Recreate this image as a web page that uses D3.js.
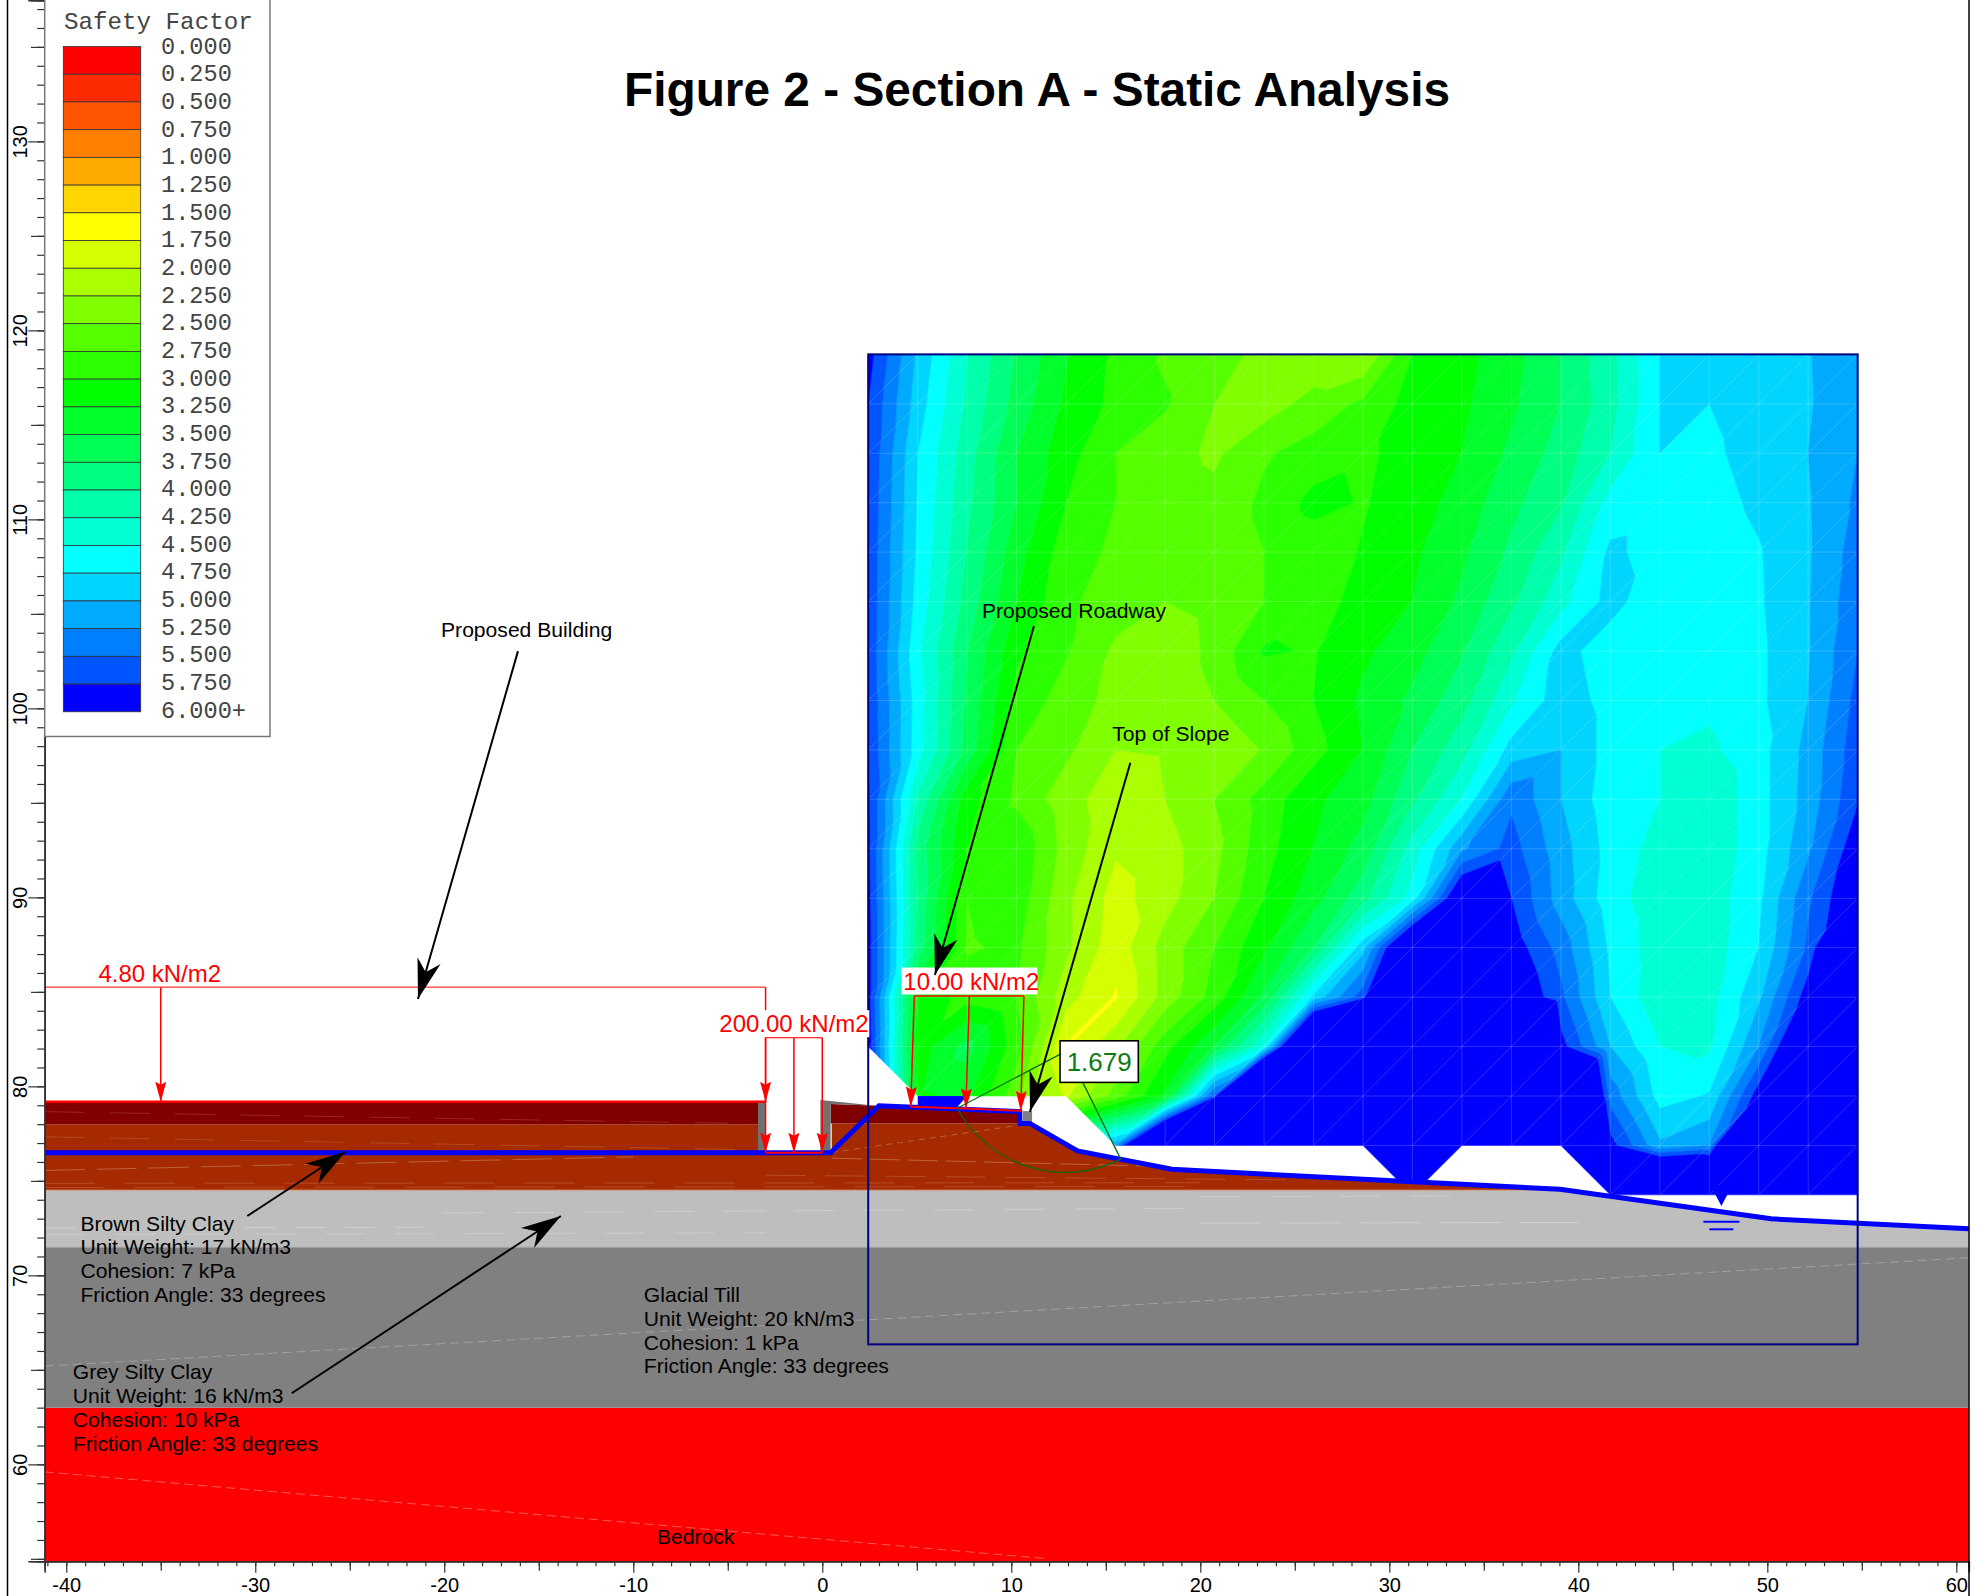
<!DOCTYPE html>
<html>
<head>
<meta charset="utf-8">
<script src="https://cdn.jsdelivr.net/npm/d3@7"></script>
<style>
  html, body { margin: 0; padding: 0; background: #fff; }
  svg { display: block; }
  text { font-family: "Liberation Sans", Arial, sans-serif; }
</style>
</head>
<body>
<svg id="chart" width="1982" height="1596"></svg>
<script>
// legend
const legendLabels = ["0.000","0.250","0.500","0.750","1.000","1.250","1.500","1.750","2.000","2.250","2.500","2.750",
  "3.000","3.250","3.500","3.750","4.000","4.250","4.500","4.750","5.000","5.250","5.500","5.750","6.000+"];
const legendColors = ["#ff0000","#ff2b00","#ff5500","#ff8000","#ffaa00","#ffd500","#ffff00","#d5ff00","#aaff00","#80ff00","#55ff00","#2bff00",
  "#00ff00","#00ff2b","#00ff55","#00ff80","#00ffaa","#00ffd5","#00ffff","#00d5ff","#00aaff","#0080ff","#0055ff","#0000ff"];
const thresholds = [0,0.25,0.5,0.75,1,1.25,1.5,1.75,2,2.25,2.5,2.75,3,3.25,3.5,3.75,4,4.25,4.5,4.75,5,5.25,5.5,5.75];

// search grid of the safety factor contours (x and elevation of the nodes)
const meshX = [2.43,5.05,7.67,10.28,12.9,15.52,18.14,20.75,23.37,25.99,28.61,31.22,33.84,36.46,39.08,41.69,44.31,46.93,49.55,52.16,54.78];
const meshY = [118.73,116.11,113.5,110.88,108.27,105.65,103.03,100.42,97.8,95.19,92.57,89.95,87.34,84.72,82.11,79.49,76.87,74.26];
const _ = null; // node under the ground
const safety = [
  [5.85,4.95,4.25,3.72,3.27,2.95,2.71,2.57,2.45,2.3,2.25,3.0,3.17,3.4,3.75,4.17,4.75,4.83,4.88,4.98,5.24],
  [5.75,4.87,4.2,3.65,3.2,2.93,2.78,2.5,2.36,2.6,2.8,3.1,3.2,3.45,3.75,4.15,4.75,4.75,4.87,4.97,5.25],
  [5.72,4.75,4.1,3.5,3.1,2.75,2.6,2.45,2.72,2.85,2.95,3.1,3.25,3.55,3.85,4.25,4.75,4.7,4.85,5.0,5.25],
  [5.7,4.73,4.05,3.5,3.0,2.75,2.65,2.58,2.8,3.08,2.98,3.12,3.35,3.68,3.97,4.6,4.65,4.65,4.8,4.98,5.3],
  [5.68,4.7,3.98,3.35,2.87,2.7,2.62,2.6,2.75,2.85,3.02,3.2,3.45,3.8,4.2,4.8,4.65,4.6,4.73,4.97,5.37],
  [5.68,4.65,3.9,3.25,2.8,2.62,2.5,2.6,2.75,2.9,3.08,3.25,3.55,3.95,4.4,4.85,4.55,4.55,4.72,4.98,5.42],
  [5.68,4.55,3.75,3.05,2.77,2.45,2.3,2.58,3.03,2.98,3.2,3.4,3.72,4.2,4.85,4.6,4.55,4.55,4.7,4.98,5.5],
  [5.7,4.62,3.7,2.9,2.65,2.4,2.3,2.5,2.75,3.0,3.3,3.55,3.9,4.45,4.9,4.65,4.55,4.55,4.7,5.0,5.58],
  [5.72,4.6,3.65,2.75,2.55,2.25,2.27,2.28,2.52,2.9,3.25,3.75,4.15,4.85,5.0,4.65,4.5,4.45,4.65,5.08,5.65],
  [5.78,4.2,3.1,2.7,2.35,2.1,2.25,2.5,2.85,3.2,3.4,3.95,4.5,5.45,5.0,4.6,4.5,4.3,4.65,5.1,5.72],
  [5.8,3.9,3.0,2.95,2.4,2.03,2.15,2.42,2.9,3.25,3.6,4.35,5.2,5.6,5.1,4.65,4.4,4.3,4.65,5.2,5.96],
  [5.82,3.95,2.75,2.9,2.3,1.9,2.15,2.5,3.0,3.4,3.9,4.6,6.24,5.75,5.13,4.6,4.35,4.35,4.7,5.45,6.1],
  [5.85,3.9,2.72,2.8,2.3,1.85,2.35,2.75,3.2,3.75,4.9,6.7,7,5.91,5.4,4.7,4.35,4.35,4.75,5.55,6.9],
  [5.85,3.2,2.9,2.75,2.1,1.72,2.35,2.85,3.55,4.8,5.65,8,8,6.12,5.55,4.75,4.3,4.4,4.95,5.9,8],
  [5.9,3.1,3.6,2.85,1.72,2.2,2.9,3.5,4.5,8,9,9,9,8,5.85,5.0,4.5,4.45,5.25,6.5,9],
  [_,3.2,3.3,2.6,1.95,2.6,3.3,5.6,10,9,9,9,9,9,8,5.4,4.65,4.77,5.9,9,9],
  [_,_,_,_,_,5.2,8.3,9,9,9,9,9,9,9,9,5.85,5.05,5.25,9,9,9],
  [_,_,_,_,_,_,_,_,_,_,_,9,_,_,_,9,8.1,7.75,9,9,9]
];
const blueStrip = [[5.05,79.49],[7.67,79.49],[7.13,78.9],[5.05,78.9]];

// soil layers, elevations in m
const xMin = -41.14, xMax = 60.66, yMin = 54.87, yMax = 137.47;
const bedrockTop = 63, tillTop = 71.48, greyTop = 74.51, darkSplit = 78.0;
const surface = [[-41.14,76.49],[0.44,76.49],[3,78.97],[10.45,78.66],[10.46,78.04],[10.98,78.04],[13.5,76.58],[18.5,75.61],[39.03,74.55],[50.2,72.99],[60.66,72.47]];
const bedrockLayer = [[xMin,yMin],[xMax,yMin],[xMax,bedrockTop],[xMin,bedrockTop]];
const tillLayer = [[xMin,bedrockTop],[xMax,bedrockTop],[xMax,tillTop],[xMin,tillTop]];
const greyLayer = [[xMin,tillTop],[xMax,tillTop],[60.66,72.47],[50.2,72.99],[39.03,74.55],[39.03,greyTop],[xMin,greyTop]];
const brownLayer = [[xMin,greyTop],[39.03,greyTop],[39.03,74.55],[18.5,75.61],[13.5,76.58],[10.98,78.04],[0.5,78.04],[0.5,76.49],[-3.4,76.49],[-3.4,darkSplit],[xMin,darkSplit]];
const darkLeft = [[xMin,darkSplit],[-3.4,darkSplit],[-3.4,79.18],[xMin,79.18]];
const darkRight = [[0.44,78.04],[10.45,78.04],[10.45,78.66],[3,78.97],[0.44,79.07]];
const wallLeft = [[-3.4,76.49],[-3,76.49],[-3,79.18],[-3.4,79.18]];
const wallRight = [[-0.1,76.49],[0.44,76.49],[0.44,79.07],[2.87,78.97],[-0.1,79.28]];
const curbBlock = [[10.62,78.05],[11.1,78.05],[11.1,78.69],[10.62,78.69]];

// thin material boundary lines [x1,y1,x2,y2,colour,dash]
const faintLines = [
  [-41.14,65.2,60.66,70.93,"#b4b4b4","9 5"],
  [-41.14,59.6,12,55,"#ff8c8c","9 5"],
  [-41.14,72.5,-20,72.55,"#dcdcdc","30 20"],
  [-41.14,72.15,-3,72.25,"#d4d4d4","40 30"],
  [-20,73.3,20,73.55,"#d8d8d8","40 30"],
  [20,72.76,40,72.8,"#dcdcdc","60 20"],
  [20,74.16,34,74.2,"#d4d4d4","40 30"],
  [-41.14,78.66,-5,78.05,"#a83c2c","40 25"],
  [-41.14,77.33,-3,76.63,"#c05a30","40 25"],
  [-41.14,75.55,-10,76.27,"#c8845c","40 12"],
  [-41.14,74.87,20,74.9,"#c0603c","50 30"],
  [-41.14,74.65,20,74.7,"#c0603c","60 30"],
  [0.5,76.5,10.8,78.0,"#c8845c","6 5"],
  [0.5,76.2,18.55,75.75,"#c8845c","30 8"],
  [-3,75.3,25,75.05,"#c0603c","40 20"]
];

// distributed loads
const loadLeft = { top: 85.25, foot: 79.18, xs: [-35,-3], label: "4.80 kN/m2", lineFrom: xMin, lineTo: -3 };
const loadBuilding = { top: 82.59, foot: 76.49, xs: [-3,-1.5,0], label: "200.00 kN/m2" };
const loadRoad = { top: 84.78, xs: [4.87,7.78,10.67], feet: [[4.68,78.92],[7.6,78.83],[10.5,78.7]], label: "10.00 kN/m2" };

// black leader arrows [x1,y1,tipX,tipY]
const arrows = [
  [-16.1,103.03,-21.39,84.62],
  [11.2,104.36,5.96,85.89],
  [16.3,97.12,10.99,78.66],
  [-30.42,73.14,-25.23,76.54],
  [-28.07,63.76,-13.83,73.14]
];

// critical slip surface
const slipCenter = [12.95,81.89], slipRadius = 6.5;
const slipEntry = [7.14,78.84], slipExit = [15.79,76.15];
const slipBox = { x1: 12.58, x2: 16.72, y1: 82.41, y2: 80.21, label: "1.679", color: "#0b7d14", line: "#0a6a10" };
const waterX = 47.57;

const notes = [
  { x: -20.17, lines: ["Proposed Building"] },
  { x: 8.45, lines: ["Proposed Roadway"] },
  { x: 15.34, lines: ["Top of Slope"] },
  { x: -39.25, lines: ["Brown Silty Clay","Unit Weight: 17 kN/m3","Cohesion: 7 kPa","Friction Angle: 33 degrees"] },
  { x: -39.65, lines: ["Grey Silty Clay","Unit Weight: 16 kN/m3","Cohesion: 10 kPa","Friction Angle: 33 degrees"] },
  { x: -9.44, lines: ["Glacial Till","Unit Weight: 20 kN/m3","Cohesion: 1 kPa","Friction Angle: 33 degrees"] },
  { x: -8.75, lines: ["Bedrock"] }
];

// scales: drawing is 18.9 px per metre both ways
const x = d3.scaleLinear().domain([xMin, xMax]).range([44.7, 1968.8]);
const y = d3.scaleLinear().domain([yMin, yMax]).range([1561.3, 0.2]);
const line = d3.line().x(d => x(d[0])).y(d => y(d[1]));
const closed = pts => line(pts) + "Z";

const svg = d3.select("#chart");
svg.append("rect").attr("width", 1982).attr("height", 1596).attr("fill", "#fff");

// ---- contours: each mesh cell is cut in triangles, every triangle is clipped per band ----
const triangles = [];
for (let r = 0; r < meshY.length - 1; r++) {
  for (let c = 0; c < meshX.length - 1; c++) {
    const node = (i, j) => safety[j][i] === null ? null : [meshX[i], meshY[j], safety[j][i]];
    const tl = node(c, r), tr = node(c + 1, r), bl = node(c, r + 1), br = node(c + 1, r + 1);
    const count = [tl, tr, bl, br].filter(Boolean).length;
    if (count === 4) {
      triangles.push([tl, tr, bl], [tr, br, bl]);
    } else if (count === 3) {
      triangles.push([tl, tr, br, bl].filter(Boolean)); // ground cuts off one corner
    }
  }
}

const clipBelow = (poly, limit, keepAbove) => {
  const out = [];
  poly.forEach((a, i) => {
    const b = poly[(i + 1) % poly.length];
    const aIn = keepAbove ? a[2] >= limit : a[2] <= limit;
    const bIn = keepAbove ? b[2] >= limit : b[2] <= limit;
    if (aIn) out.push(a);
    if (aIn !== bIn) {
      const t = (limit - a[2]) / (b[2] - a[2]);
      out.push([a[0] + t * (b[0] - a[0]), a[1] + t * (b[1] - a[1]), limit]);
    }
  });
  return out;
};

const bands = thresholds.map((lo, i) => {
  const hi = i + 1 < thresholds.length ? thresholds[i + 1] : Infinity;
  let d = "";
  triangles.forEach(t => {
    let poly = clipBelow(t, lo, true);
    if (poly.length && hi !== Infinity) poly = clipBelow(poly, hi, false);
    if (poly.length > 2) d += closed(poly);
  });
  return { d, color: legendColors[i] };
}).filter(b => b.d);

svg.append("g").attr("class", "contours")
  .selectAll("path")
  .data(bands)
  .join("path")
    .attr("d", d => d.d)
    .attr("fill", d => d.color)
    .attr("stroke", d => d.color)
    .attr("stroke-width", 0.6)
    .attr("stroke-linejoin", "round");

svg.append("path").attr("d", closed(blueStrip)).attr("fill", "#0000ff");

// mesh lines, shared edges get drawn twice so they come out brighter than the diagonals
svg.append("g").attr("class", "mesh")
  .selectAll("path")
  .data(triangles)
  .join("path")
    .attr("d", d => closed(d))
    .attr("fill", "none")
    .attr("stroke", "#fff")
    .attr("stroke-opacity", 0.11)
    .attr("stroke-width", 0.9);

// ---- soil ----
const layers = [
  [bedrockLayer, "#ff0000"],
  [tillLayer, "#808080"],
  [greyLayer, "#bebebe"],
  [brownLayer, "#a52a00"],
  [darkLeft, "#800000"],
  [darkRight, "#800000"],
  [wallLeft, "#707070"],
  [wallRight, "#707070"],
  [curbBlock, "#808080"]
];
svg.append("g").attr("class", "layers")
  .selectAll("path")
  .data(layers)
  .join("path")
    .attr("d", d => closed(d[0]))
    .attr("fill", d => d[1]);

svg.append("g").selectAll("line")
  .data(faintLines)
  .join("line")
    .attr("x1", d => x(d[0])).attr("y1", d => y(d[1]))
    .attr("x2", d => x(d[2])).attr("y2", d => y(d[3]))
    .attr("stroke", d => d[4])
    .attr("stroke-dasharray", d => d[5])
    .attr("stroke-opacity", 0.7)
    .attr("stroke-width", 0.9);

// material boundary tops
[[greyTop, "#d09070"], [tillTop, "#9a9a9a"]].forEach(([v, col]) => {
  svg.append("line").attr("x1", x(xMin)).attr("x2", x(v === greyTop ? 39 : xMax))
    .attr("y1", y(v)).attr("y2", y(v)).attr("stroke", col).attr("stroke-width", 1);
});

svg.append("path")
  .attr("d", line(surface))
  .attr("fill", "none")
  .attr("stroke", "#0000ff")
  .attr("stroke-width", 5)
  .attr("stroke-linejoin", "miter");

// water table symbol
svg.append("path")
  .attr("d", `M${x(waterX) - 11},1185 L${x(waterX) + 11},1185 L${x(waterX)},1206 Z`)
  .attr("fill", "#0000ff");
[[18, 1221.7], [12, 1229.3]].forEach(([w, yy]) => {
  svg.append("line").attr("x1", x(waterX) - w).attr("x2", x(waterX) + w)
    .attr("y1", yy).attr("y2", yy).attr("stroke", "#0000ff").attr("stroke-width", 2);
});

// search box
svg.append("rect")
  .attr("x", x(meshX[0])).attr("y", y(meshY[0]))
  .attr("width", x(meshX[20]) - x(meshX[0]))
  .attr("height", y(66.35) - y(meshY[0]))
  .attr("fill", "none")
  .attr("stroke", "#000080")
  .attr("stroke-width", 2);

// ---- loads ----
const headPath = (fx, fy, tx, ty, len, hw, notch) => {
  const l = Math.hypot(tx - fx, ty - fy);
  const ux = (tx - fx) / l, uy = (ty - fy) / l;
  const bx = tx - ux * len, by = ty - uy * len;
  const nx = tx - ux * notch, ny = ty - uy * notch;
  return `M${tx},${ty} L${bx - uy * hw},${by + ux * hw} L${nx},${ny} L${bx + uy * hw},${by - ux * hw} Z`;
};

const redLine = (x1, y1, x2, y2, w = 1.5) => svg.append("line")
  .attr("x1", x(x1)).attr("y1", y(y1)).attr("x2", x(x2)).attr("y2", y(y2))
  .attr("stroke", "#ff0000").attr("stroke-width", w);
const redArrow = (x1, y1, x2, y2) => {
  redLine(x1, y1, x2, y2);
  svg.append("path")
    .attr("d", headPath(x(x1), y(y1), x(x2), y(y2), 20, 5.5, 17))
    .attr("fill", "#ff0000");
};

redLine(loadLeft.lineFrom, loadLeft.top, loadLeft.lineTo, loadLeft.top, 1);
loadLeft.xs.forEach(v => redArrow(v, loadLeft.top, v, loadLeft.foot));
redLine(xMin, loadLeft.foot, loadLeft.lineTo, loadLeft.foot, 2.5);

redLine(d3.min(loadBuilding.xs), loadBuilding.top, d3.max(loadBuilding.xs), loadBuilding.top);
loadBuilding.xs.forEach(v => redArrow(v, loadBuilding.top, v, loadBuilding.foot));
redLine(d3.min(loadBuilding.xs), loadBuilding.foot, d3.max(loadBuilding.xs), loadBuilding.foot, 2);

redLine(loadRoad.xs[0], loadRoad.top, loadRoad.xs[2], loadRoad.top);
loadRoad.xs.forEach((v, i) => redArrow(v, loadRoad.top, loadRoad.feet[i][0], loadRoad.feet[i][1]));
svg.append("path").attr("d", line(loadRoad.feet)).attr("fill", "none").attr("stroke", "#ff0000").attr("stroke-width", 2);

const labelWithBg = (label, tx, ty, bg) => {
  if (bg) {
    svg.append("rect").attr("x", tx - 2).attr("y", ty - 22).attr("width", bg).attr("height", 27).attr("fill", "#fff");
  }
  svg.append("text").attr("x", tx).attr("y", ty).attr("font-size", 24).attr("fill", "#ff0000").text(label);
};
labelWithBg(loadLeft.label, x(-38.3), 982);
labelWithBg(loadBuilding.label, 719.3, 1032.2, 152);
labelWithBg(loadRoad.label, 903.3, 989.5, 136);

// ---- slip circle with its label ----
svg.append("path")
  .attr("d", `M${x(slipEntry[0])},${y(slipEntry[1])} A${x(slipRadius) - x(0)},${x(slipRadius) - x(0)} 0 0 0 ${x(slipExit[0])},${y(slipExit[1])}`)
  .attr("fill", "none")
  .attr("stroke", slipBox.line)
  .attr("stroke-width", 1.3);
svg.append("line")
  .attr("x1", x(slipEntry[0])).attr("y1", y(slipEntry[1]))
  .attr("x2", x(slipCenter[0])).attr("y2", y(slipCenter[1]))
  .attr("stroke", slipBox.line).attr("stroke-width", 1.3);
svg.append("line")
  .attr("x1", x(slipExit[0])).attr("y1", y(slipExit[1]))
  .attr("x2", x(slipCenter[0])).attr("y2", y(slipCenter[1]))
  .attr("stroke", slipBox.line).attr("stroke-width", 1.3);
svg.append("rect")
  .attr("x", x(slipBox.x1)).attr("y", y(slipBox.y1))
  .attr("width", x(slipBox.x2) - x(slipBox.x1))
  .attr("height", y(slipBox.y2) - y(slipBox.y1))
  .attr("fill", "#fff").attr("stroke", "#000").attr("stroke-width", 1.6);
svg.append("text")
  .attr("x", (x(slipBox.x1) + x(slipBox.x2)) / 2).attr("y", 1071)
  .attr("text-anchor", "middle").attr("font-size", 26).attr("fill", slipBox.color)
  .text(slipBox.label);

// ---- black arrows ----
const arrowG = svg.append("g").attr("class", "arrows");
arrowG.selectAll("line")
  .data(arrows)
  .join("line")
    .attr("x1", d => x(d[0])).attr("y1", d => y(d[1]))
    .attr("x2", d => x(d[2])).attr("y2", d => y(d[3]))
    .attr("stroke", "#000").attr("stroke-width", 2);
arrowG.selectAll("path")
  .data(arrows)
  .join("path")
    .attr("d", d => headPath(x(d[0]), y(d[1]), x(d[2]), y(d[3]), 40, 12, 28))
    .attr("fill", "#000");

// ---- notes ----
const noteBaselines = {
  "Proposed Building": [637], "Proposed Roadway": [617.5], "Top of Slope": [740.5], "Bedrock": [1543.7],
  "Brown Silty Clay": [1231,1254.3,1278,1302], "Grey Silty Clay": [1378.5,1403,1427,1450.5], "Glacial Till": [1301.7,1326,1350,1373.3]
};
notes.forEach(n => {
  n.lines.forEach((t, i) => {
    svg.append("text")
      .attr("x", x(n.x))
      .attr("y", noteBaselines[n.lines[0]][i])
      .attr("font-size", 21.1)
      .attr("fill", "#000")
      .text(t);
  });
});

svg.append("text")
  .attr("x", 624).attr("y", 105.5)
  .attr("font-size", 47.8).attr("font-weight", "bold").attr("fill", "#000")
  .text("Figure 2 - Section A - Static Analysis");

// ---- axes ----
const xAxisG = svg.append("g").attr("transform", "translate(0,1561.3)");
const yAxisG = svg.append("g").attr("transform", "translate(44.7,0)");

const minorX = d3.range(-41, 61), midX = d3.range(-35, 61, 10), majorX = d3.range(-40, 61, 10);
const minorY = d3.range(55, 138), midY = d3.range(55, 138, 10), majorY = d3.range(60, 131, 10);

xAxisG.append("g").call(d3.axisBottom(x).tickValues(minorX).tickSize(5).tickFormat(""));
xAxisG.append("g").call(d3.axisBottom(x).tickValues(midX).tickSize(9.5).tickFormat(""));
xAxisG.append("g").call(d3.axisBottom(x).tickValues(majorX).tickSize(11.5).tickFormat(d => String(d)))
  .call(g => g.selectAll("text").attr("y", 0).attr("dy", 30.4).attr("font-size", 20).attr("font-family", "Liberation Sans").attr("fill", "#000"));

yAxisG.append("g").call(d3.axisLeft(y).tickValues(minorY).tickSize(7.5).tickFormat(""));
yAxisG.append("g").call(d3.axisLeft(y).tickValues(midY).tickSize(13.7).tickFormat(""));
yAxisG.append("g").call(d3.axisLeft(y).tickValues(majorY).tickSize(16.4).tickFormat(d => String(d)))
  .call(g => g.selectAll("text")
    .attr("x", 0).attr("dy", 0).attr("y", 0)
    .attr("text-anchor", "middle")
    .attr("transform", "translate(-18,0) rotate(-90)")
    .attr("font-size", 20).attr("font-family", "Liberation Sans").attr("fill", "#000"));

[xAxisG, yAxisG].forEach(g => {
  g.selectAll(".domain").attr("stroke", "#333").attr("stroke-width", 1.5);
  g.selectAll("line").attr("stroke", "#333").attr("stroke-width", 1.2);
});

// outer frame lines
svg.append("line").attr("x1", 7.5).attr("x2", 7.5).attr("y1", 0).attr("y2", 1596).attr("stroke", "#000").attr("stroke-width", 1.5);
svg.append("line").attr("x1", 1969).attr("x2", 1969).attr("y1", 0).attr("y2", 1596).attr("stroke", "#000").attr("stroke-width", 1.5);

// ---- legend ----
const legend = svg.append("g").attr("class", "legend");
legend.append("rect").attr("x", 44.7).attr("y", -3).attr("width", 225.3).attr("height", 739.5)
  .attr("fill", "#fff").attr("stroke", "#777").attr("stroke-width", 1.5);
const legendTop = 46.5, legendStep = 27.72, legendTextStep = 27.68;
legend.selectAll("rect.swatch")
  .data(legendColors)
  .join("rect")
    .attr("class", "swatch")
    .attr("x", 63.3).attr("width", 77.4)
    .attr("y", (d, i) => legendTop + i * legendStep)
    .attr("height", legendStep)
    .attr("fill", d => d)
    .attr("stroke", "#333").attr("stroke-width", 0.8);
legend.selectAll("text.entry")
  .data(legendLabels)
  .join("text")
    .attr("class", "entry")
    .attr("x", 161)
    .attr("y", (d, i) => legendTop + i * legendTextStep + 7)
    .attr("font-size", 23.6)
    .attr("fill", "#444")
    .style("font-family", "'Liberation Mono'")
    .text(d => d);
legend.append("text")
  .attr("x", 64).attr("y", 29)
  .attr("font-size", 24.2)
  .attr("fill", "#444")
  .style("font-family", "'Liberation Mono'")
  .text("Safety Factor");
</script>
</body>
</html>
